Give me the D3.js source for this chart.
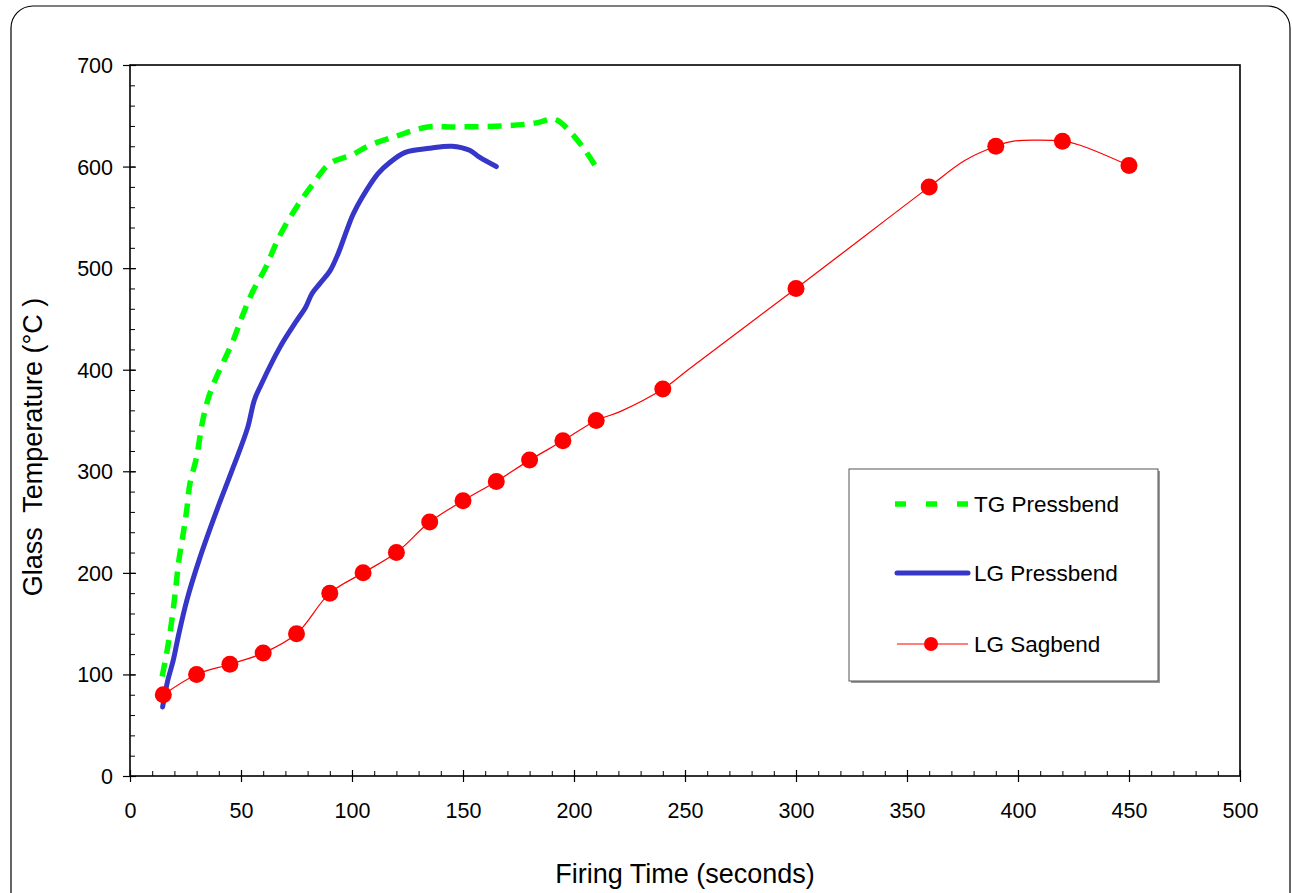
<!DOCTYPE html>
<html>
<head>
<meta charset="utf-8">
<script src="https://cdn.jsdelivr.net/npm/d3@7/dist/d3.min.js"></script>
<style>
  body { margin: 0; background: #fff; }
  text { font-family: "Liberation Sans", Arial, sans-serif; fill: #000; }
</style>
</head>
<body>
<script>
/* data */
const xTicks = [0, 50, 100, 150, 200, 250, 300, 350, 400, 450, 500];
const yTicks = [0, 100, 200, 300, 400, 500, 600, 700];

// TG Pressbend (green dashed)
const tgTime = [14.5, 17, 19, 20.5, 22, 24, 25.5, 27, 30, 32.5, 35, 38, 46.5, 51, 55.5, 61, 67, 75, 82.5, 90, 100.5, 107, 120, 134, 146, 168, 183, 190.5, 193, 198, 204, 211];
const tgTemp = [98, 127, 156, 183, 212, 239, 261, 288, 314, 347, 370, 388, 429, 455, 478, 500, 530, 560, 583, 603, 612, 620, 630, 639, 639, 640, 643, 647, 645, 635, 619, 596];

// LG Pressbend (blue solid)
const lgpTime = [14.7, 17, 19.5, 21.7, 25.6, 31.5, 39, 46.5, 53, 56, 59, 67.5, 75, 79, 82, 85.6, 90, 93.7, 97.6, 100.5, 104.4, 111.7, 117, 124, 135, 145, 153, 157.6, 165];
const lgpTemp = [68, 94, 114, 137, 173, 215, 261, 304, 343, 370, 385, 422, 448, 461, 475, 485, 497, 514, 537, 553, 569, 593, 604, 614, 618, 620, 616, 609, 600];

// LG Sagbend (red line + markers)
const sagLineTime = [15, 30, 45, 60, 75, 90, 105, 120, 135, 150, 165, 180, 195, 210, 221, 240, 252, 300, 330, 360, 376, 390, 398, 408, 420, 428, 450];
const sagLineTemp = [80, 100, 110, 121, 140, 180, 200, 220, 250, 271, 290, 311, 330, 350, 359, 381, 401, 480, 530, 580, 606, 620, 625, 626, 625, 621, 601];
const sagMarkTime = [15, 30, 45, 60, 75, 90, 105, 120, 135, 150, 165, 180, 195, 210, 240, 300, 360, 390, 420, 450];
const sagMarkTemp = [80, 100, 110, 121, 140, 180, 200, 220, 250, 271, 290, 311, 330, 350, 381, 480, 580, 620, 625, 601];

const legendNames = ["TG Pressbend", "LG Pressbend", "LG Sagbend"];

/* canvas */
const width = 1292, height = 893;
const svg = d3.select("body").append("svg").attr("width", width).attr("height", height);

// outer rounded frame
svg.append("rect").attr("x", 11).attr("y", 6).attr("width", 1279).attr("height", 920)
   .attr("rx", 22).attr("fill", "none").attr("stroke", "#000").attr("stroke-width", 1.2);

const xScale = d3.scaleLinear().domain([0, 500]).range([130, 1240]);
const yScale = d3.scaleLinear().domain([0, 700]).range([776, 65]);

/* minor ticks, inside */
svg.append("g").attr("transform", "translate(0,776)")
   .call(d3.axisTop(xScale).tickValues(d3.range(0, 501, 10)).tickSize(5).tickFormat(""))
   .call(g => g.select(".domain").remove())
   .selectAll("line").attr("stroke-width", 1);
svg.append("g").attr("transform", "translate(130,0)")
   .call(d3.axisRight(yScale).tickValues(d3.range(0, 701, 20)).tickSize(5).tickFormat(""))
   .call(g => g.select(".domain").remove())
   .selectAll("line").attr("stroke-width", 1);

/* major ticks + labels */
const xAxis = svg.append("g").attr("transform", "translate(0,776)")
   .call(d3.axisBottom(xScale).tickValues(xTicks).tickSize(6).tickFormat(d3.format("d")));
xAxis.select(".domain").remove();
xAxis.selectAll(".tick line").attr("y1", -6).attr("y2", 6).attr("stroke-width", 1.2);
xAxis.selectAll(".tick text").attr("y", 42).attr("dy", null)
     .style("font-size", "21.5px").style("font-family", "Liberation Sans, Arial, sans-serif");

const yAxis = svg.append("g").attr("transform", "translate(130,0)")
   .call(d3.axisLeft(yScale).tickValues(yTicks).tickSize(6).tickFormat(d3.format("d")));
yAxis.select(".domain").remove();
yAxis.selectAll(".tick line").attr("x1", 6).attr("x2", -7).attr("stroke-width", 1.2);
yAxis.selectAll(".tick text").attr("x", -17).attr("dy", "0.35em")
     .style("font-size", "21.5px").style("font-family", "Liberation Sans, Arial, sans-serif");

// plot frame
svg.append("rect").attr("x", 130).attr("y", 65).attr("width", 1110).attr("height", 711)
   .attr("fill", "none").attr("stroke", "#000").attr("stroke-width", 1.6);

/* series */
const pts = (xs, ys) => xs.map((t, i) => [t, ys[i]]);
const line = d3.line().x(d => xScale(d[0])).y(d => yScale(d[1])).curve(d3.curveCatmullRom.alpha(0.5));

svg.append("path").datum(pts(sagLineTime, sagLineTemp)).attr("d", line)
   .attr("fill", "none").attr("stroke", "#ff0000").attr("stroke-width", 1.2);

svg.append("path").datum(pts(tgTime, tgTemp)).attr("d", line)
   .attr("fill", "none").attr("stroke", "#00ff00").attr("stroke-width", 5.5)
   .attr("stroke-dasharray", "14,9");

svg.append("path").datum(pts(lgpTime, lgpTemp)).attr("d", line)
   .attr("fill", "none").attr("stroke", "#3636c8").attr("stroke-width", 5)
   .attr("stroke-linecap", "round").attr("stroke-linejoin", "round");

svg.append("g").selectAll("circle").data(pts(sagMarkTime, sagMarkTemp)).enter().append("circle")
   .attr("cx", d => xScale(d[0])).attr("cy", d => yScale(d[1])).attr("r", 8.5)
   .attr("fill", "#ff0000");

/* axis titles */
svg.append("text").attr("x", 685).attr("y", 883).attr("text-anchor", "middle")
   .style("font-size", "27px").text("Firing Time (seconds)");
svg.append("text").attr("transform", "translate(42,447) rotate(-90)").attr("text-anchor", "middle")
   .style("font-size", "27px").style("white-space", "pre").attr("xml:space", "preserve")
   .text("Glass  Temperature (\u00b0C )");

/* legend */
const legend = svg.append("g");
legend.append("rect").attr("x", 851).attr("y", 471).attr("width", 309).attr("height", 212).attr("fill", "#999");
legend.append("rect").attr("x", 849).attr("y", 469).attr("width", 309).attr("height", 212)
      .attr("fill", "#fff").attr("stroke", "#555").attr("stroke-width", 1);
const rowY = [504, 573, 644];
legend.append("line").attr("x1", 895).attr("x2", 969).attr("y1", rowY[0]).attr("y2", rowY[0])
      .attr("stroke", "#00ff00").attr("stroke-width", 5.5).attr("stroke-dasharray", "11,20");
legend.append("line").attr("x1", 897).attr("x2", 968).attr("y1", rowY[1]).attr("y2", rowY[1])
      .attr("stroke", "#3636c8").attr("stroke-width", 5).attr("stroke-linecap", "round");
legend.append("line").attr("x1", 897).attr("x2", 968).attr("y1", rowY[2]).attr("y2", rowY[2])
      .attr("stroke", "#ff0000").attr("stroke-width", 1.2);
legend.append("circle").attr("cx", 931).attr("cy", rowY[2]).attr("r", 7).attr("fill", "#ff0000");
legend.selectAll("text.lab").data(legendNames).enter().append("text").attr("class", "lab")
      .attr("x", 974).attr("y", (d, i) => rowY[i] + 8).style("font-size", "22.5px").text(d => d);
</script>
</body>
</html>
